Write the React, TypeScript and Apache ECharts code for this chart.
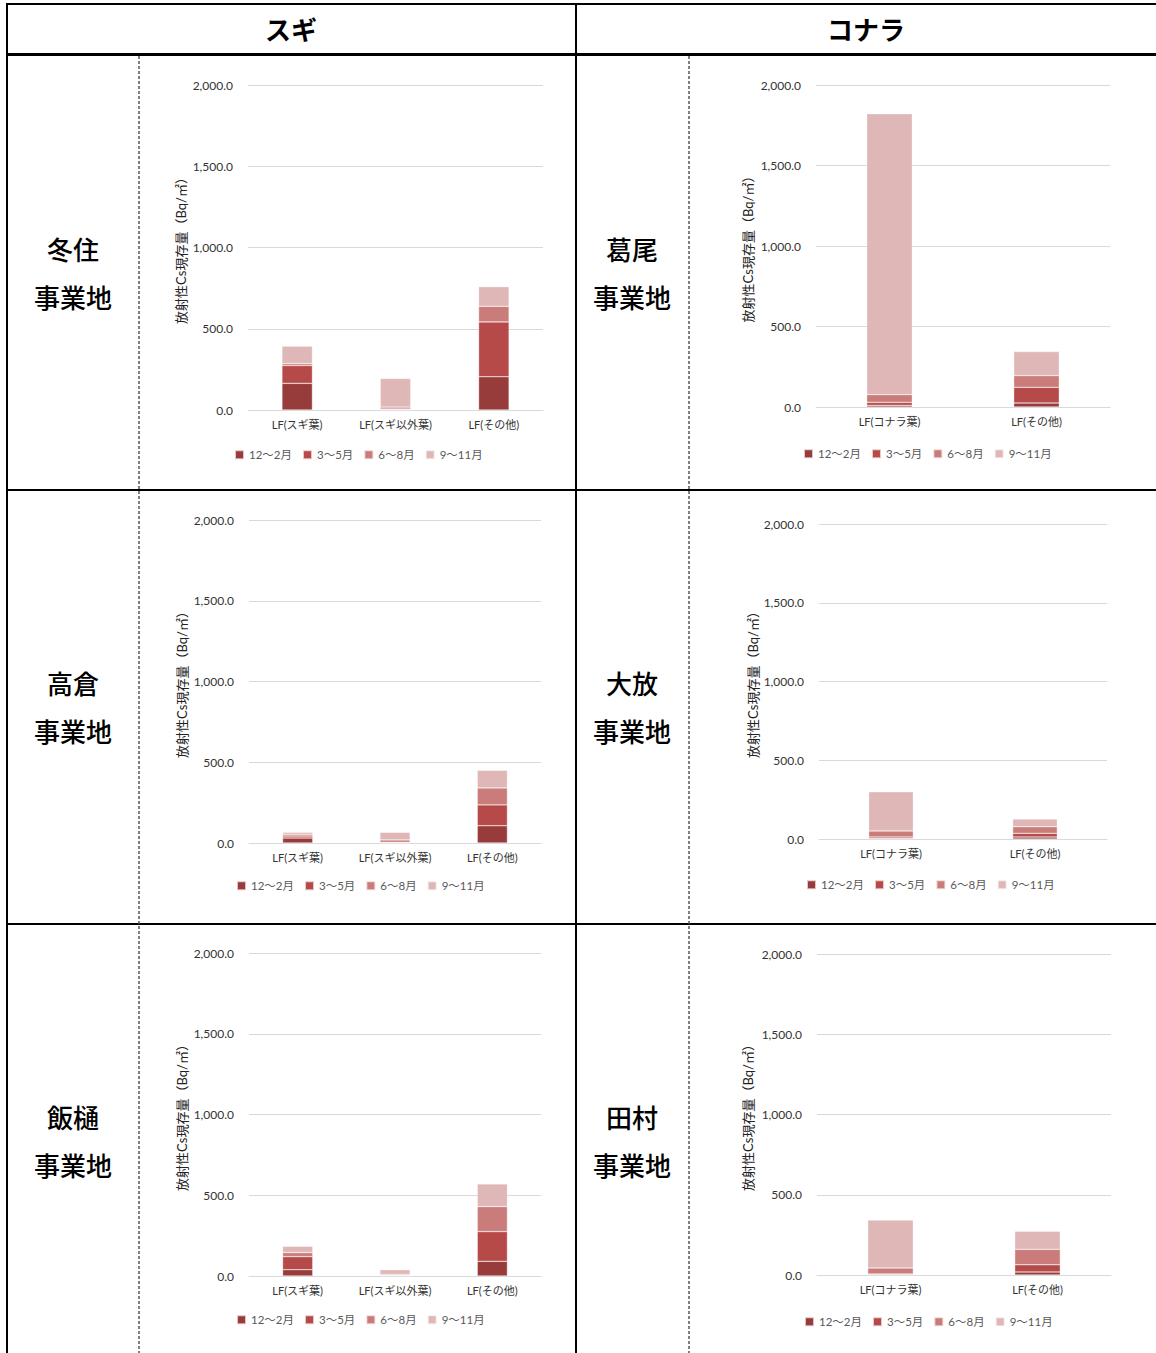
import React, { useEffect, useRef } from "react";
import * as echarts from "echarts";

const seasons = ["12〜2月", "3〜5月", "6〜8月", "9〜11月"];
const seasonColors = ["#983c3b", "#b64a48", "#ca7c7a", "#dfb7b6"];

const sugiCats = ["LF(スギ葉)", "LF(スギ以外葉)", "LF(その他)"];
const konaraCats = ["LF(コナラ葉)", "LF(その他)"];

const yTicks = [0, 500, 1000, 1500, 2000];
const yAxisName = "放射性Cs現存量（Bq/㎡）";

// values per season (12〜2月, 3〜5月, 6〜8月, 9〜11月)
const fuyuzumi = [[164, 2, 205], [110, 4, 337], [12, 12, 96], [107, 176, 121]];
const katsurao = [[10, 25], [19, 97], [48, 73], [1745, 149]];
const takakura = [[31, 1, 107], [12, 3, 129], [11, 15, 105], [12, 47, 109]];
const ohata = [[3, 13], [10, 23], [38, 42], [249, 49]];
const iitoi = [[39, 1, 91], [81, 3, 184], [25, 6, 155], [39, 29, 140]];
const tamura = [[2, 19], [5, 45], [37, 96], [298, 112]];

const headers = ["スギ", "コナラ"];
const sites = [
  ["冬住", "葛尾"],
  ["高倉", "大放"],
  ["飯樋", "田村"],
];
const siteSuffix = "事業地";

const panels = [
  { cats: sugiCats, data: fuyuzumi, grid: { left: 248, top: 85, width: 295, height: 325 }, gap: 61, legend: { left: 229, top: 444 } },
  { cats: konaraCats, data: katsurao, grid: { left: 816, top: 85, width: 294, height: 322 }, gap: 62, legend: { left: 798, top: 443 } },
  { cats: sugiCats, data: takakura, grid: { left: 249, top: 520, width: 292, height: 323 }, gap: 61, legend: { left: 231, top: 875 } },
  { cats: konaraCats, data: ohata, grid: { left: 819, top: 524, width: 288, height: 315 }, gap: 60, legend: { left: 801, top: 874 } },
  { cats: sugiCats, data: iitoi, grid: { left: 249, top: 953, width: 292, height: 323 }, gap: 61, legend: { left: 231, top: 1309 } },
  { cats: konaraCats, data: tamura, grid: { left: 817, top: 954, width: 294, height: 321 }, gap: 63, legend: { left: 799, top: 1311 } },
];

const FONT = 'Lato, "Noto Sans CJK JP", sans-serif';
const JP = '"Noto Sans CJK JP", sans-serif';

export default function App() {
  const ref = useRef<HTMLDivElement>(null);

  useEffect(() => {
    if (!ref.current) return;
    const chart = echarts.init(ref.current, undefined, { renderer: "svg" });

    const grids: any[] = [];
    const xAxes: any[] = [];
    const yAxes: any[] = [];
    const legends: any[] = [];
    const series: any[] = [];

    panels.forEach((p, i) => {
      grids.push({ ...p.grid, containLabel: false });
      xAxes.push({
        type: "category",
        gridIndex: i,
        data: p.cats,
        axisLine: { lineStyle: { color: "#d9d9d9", width: 1 } },
        axisTick: { show: false },
        axisLabel: { color: "#333", fontSize: 11, margin: 9, fontFamily: FONT, interval: 0 },
      });
      yAxes.push({
        type: "value",
        gridIndex: i,
        min: yTicks[0],
        max: yTicks[yTicks.length - 1],
        interval: 500,
        name: yAxisName,
        nameLocation: "middle",
        nameRotate: 90,
        nameGap: p.gap,
        nameTextStyle: { color: "#222", fontSize: 13, fontFamily: FONT },
        axisLine: { show: false },
        axisTick: { show: false },
        splitLine: { lineStyle: { color: "#d9d9d9", width: 1 } },
        axisLabel: {
          color: "#333",
          fontSize: 12,
          margin: 15,
          fontFamily: FONT,
          formatter: (v: number) =>
            v.toLocaleString("en-US", { minimumFractionDigits: 1, maximumFractionDigits: 1 }),
        },
      });
      legends.push({
        left: p.legend.left,
        top: p.legend.top,
        orient: "horizontal",
        data: seasons,
        icon: "rect",
        itemWidth: 9,
        itemHeight: 9,
        itemGap: 10,
        textStyle: { color: "#595959", fontSize: 11.5, fontFamily: FONT },
        selectedMode: false,
      });
      seasons.forEach((s, k) => {
        series.push({
          type: "bar",
          name: s,
          xAxisIndex: i,
          yAxisIndex: i,
          stack: "p" + i,
          barWidth: "31%",
          data: p.data[k],
          itemStyle: { color: seasonColors[k], borderColor: "rgba(255,255,255,0.7)", borderWidth: 0.5 },
        });
      });
    });

    const lineStyle = { stroke: "#000", lineWidth: 2 };
    const graphics: any[] = [
      { type: "line", shape: { x1: 6, y1: 4, x2: 1156, y2: 4 }, style: lineStyle },
      { type: "line", shape: { x1: 7, y1: 3, x2: 7, y2: 1353 }, style: lineStyle },
      { type: "line", shape: { x1: 576, y1: 3, x2: 576, y2: 1353 }, style: lineStyle },
      { type: "line", shape: { x1: 6, y1: 54.5, x2: 1156, y2: 54.5 }, style: { stroke: "#000", lineWidth: 3 } },
      { type: "line", shape: { x1: 6, y1: 490, x2: 1156, y2: 490 }, style: lineStyle },
      { type: "line", shape: { x1: 6, y1: 924, x2: 1156, y2: 924 }, style: lineStyle },
      { type: "line", shape: { x1: 139, y1: 56, x2: 139, y2: 1353 }, style: { stroke: "#555", lineWidth: 1.5, lineDash: [3, 2] } },
      { type: "line", shape: { x1: 689, y1: 56, x2: 689, y2: 1353 }, style: { stroke: "#555", lineWidth: 1.5, lineDash: [3, 2] } },
    ];
    const headerX = [291, 866];
    headers.forEach((h, c) => {
      graphics.push({
        type: "text",
        x: headerX[c],
        y: 28,
        style: { text: h, fill: "#000", font: `bold 26px ${JP}`, align: "center", verticalAlign: "middle" },
      });
    });
    const labelX = [73, 632];
    const rowY = [248, 682, 1116];
    sites.forEach((row, r) => {
      row.forEach((name, c) => {
        graphics.push({
          type: "text",
          x: labelX[c],
          y: rowY[r],
          style: { text: name, fill: "#000", font: `500 26px ${JP}`, align: "center", verticalAlign: "middle" },
        });
        graphics.push({
          type: "text",
          x: labelX[c],
          y: rowY[r] + 48,
          style: { text: siteSuffix, fill: "#000", font: `500 26px ${JP}`, align: "center", verticalAlign: "middle" },
        });
      });
    });

    chart.setOption({
      animation: false,
      backgroundColor: "#ffffff",
      grid: grids,
      xAxis: xAxes,
      yAxis: yAxes,
      legend: legends,
      series,
      graphic: graphics,
    });

    return () => chart.dispose();
  }, []);

  return (
    <div
      ref={ref}
      style={{ position: "absolute", left: 0, top: 0, width: 1156, height: 1353 }}
    />
  );
}
